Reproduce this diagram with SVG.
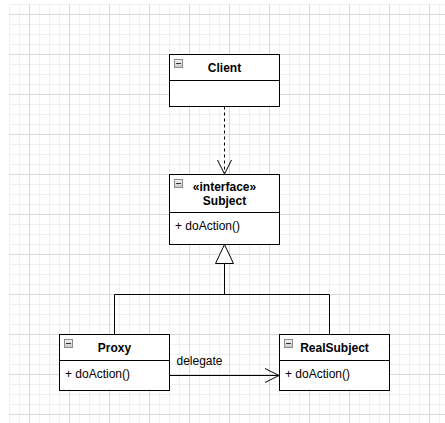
<svg xmlns="http://www.w3.org/2000/svg" width="445" height="423" viewBox="0 0 445 423">
  <style>
    .box { fill: #ffffff; stroke: #000000; stroke-width: 1; }
    .sep { stroke: #000000; stroke-width: 1; }
    .title { font-family: "Liberation Sans", Arial, sans-serif; font-size: 12px; font-weight: bold; fill: #000000; text-anchor: middle; }
    .member { font-family: "Liberation Sans", Arial, sans-serif; font-size: 12px; fill: #000000; }
    .label { font-family: "Liberation Sans", Arial, sans-serif; font-size: 12px; fill: #000000; }
    .edge { fill: none; stroke: #000000; stroke-width: 1; }
    .dashed { stroke-dasharray: 3 3; }
    .toggle-box { fill: url(#toggleFill); stroke: #8a8a8a; stroke-width: 1; }
    .toggle-bar { stroke: #333333; stroke-width: 1; }
  </style>
  <defs>
    <linearGradient id="toggleFill" x1="0" y1="0" x2="0" y2="1">
      <stop offset="0" stop-color="#f4f4f4"/>
      <stop offset="1" stop-color="#c8c8c8"/>
    </linearGradient>
    <pattern id="grid" x="9" y="4" width="40" height="40" patternUnits="userSpaceOnUse">
      <path d="M0.5 0V40M10.5 0V40M30.5 0V40M0 0.5H40M0 20.5H40M0 30.5H40" stroke="#f0f0f0" stroke-width="1" fill="none"/>
      <path d="M20.5 0V40M0 10.5H40" stroke="#d9d9d9" stroke-width="1" fill="none"/>
    </pattern>
    <g id="toggle">
      <rect class="toggle-box" x="0.5" y="0.5" width="8" height="8"/>
      <path class="toggle-bar" d="M2 4.5H7"/>
    </g>
  </defs>

  <rect width="445" height="423" fill="#ffffff"/>
  <rect x="9" y="4" width="436" height="419" fill="url(#grid)"/>

  <!-- connectors -->
  <g id="connectors">
    <!-- Client uses Subject -->
    <path class="edge dashed" d="M224.5 106.5V173"/>
    <path class="edge" d="M217.5 160L224.5 174L231.5 160"/>
    <!-- Proxy and RealSubject realize Subject -->
    <path class="edge" d="M224.5 263V294.5M114.5 334.5V294.5H329.5V334.5"/>
    <path d="M224.5 244.5L215.5 263.5H233.5Z" fill="#ffffff" stroke="#000000" stroke-width="1"/>
    <!-- delegate -->
    <path class="edge" d="M169.5 375.5H278.5"/>
    <path class="edge" d="M265 368.5L279 375.5L265 382.5"/>
    <text class="label" x="176.5" y="365">delegate</text>
  </g>

  <g id="client">
    <rect class="box" x="169.5" y="54.5" width="110" height="52"/>
    <path class="sep" d="M169.5 80.5H279.5"/>
    <use href="#toggle" x="174" y="59"/>
    <text class="title" x="224.5" y="72">Client</text>
  </g>

  <g id="subject">
    <rect class="box" x="169.5" y="174.5" width="110" height="70"/>
    <path class="sep" d="M169.5 212.5H279.5"/>
    <use href="#toggle" x="174" y="179"/>
    <text class="title" x="224.5" y="191">«interface»</text>
    <text class="title" x="224.5" y="205">Subject</text>
    <text class="member" x="175" y="230">+ doAction()</text>
  </g>

  <g id="proxy">
    <rect class="box" x="59.5" y="334.5" width="110" height="56"/>
    <path class="sep" d="M59.5 360.5H169.5"/>
    <use href="#toggle" x="64" y="339"/>
    <text class="title" x="114.5" y="352">Proxy</text>
    <text class="member" x="65" y="378">+ doAction()</text>
  </g>

  <g id="realsubject">
    <rect class="box" x="279.5" y="334.5" width="110" height="56"/>
    <path class="sep" d="M279.5 360.5H389.5"/>
    <use href="#toggle" x="284" y="339"/>
    <text class="title" x="334.5" y="352">RealSubject</text>
    <text class="member" x="285" y="378">+ doAction()</text>
  </g>
</svg>
